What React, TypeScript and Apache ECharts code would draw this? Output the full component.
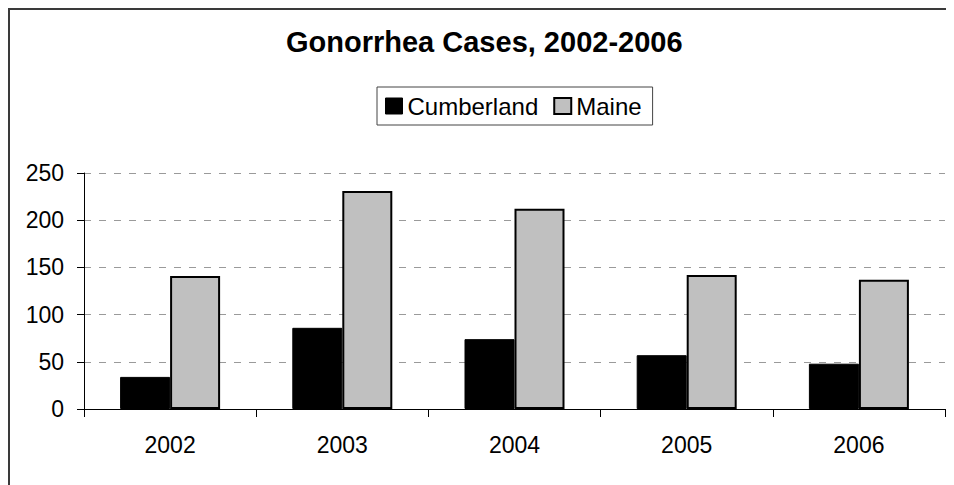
import React, { useEffect, useRef } from "react";
import * as echarts from "echarts";

const titleText = "Gonorrhea Cases, 2002-2006";
const categories = ["2002", "2003", "2004", "2005", "2006"];
const seriesNames = ["Cumberland", "Maine"];
const cumberland = [34, 86, 74, 57, 48];
const maine = [141, 231, 212, 142, 137];
const yTicks = { min: 0, max: 250, interval: 50 };

const FONT = "'Liberation Sans', Arial, sans-serif";

export default function App() {
  const ref = useRef<HTMLDivElement>(null);
  useEffect(() => {
    if (!ref.current) return;
    const chart = echarts.init(ref.current, null, { renderer: "svg" });
    chart.setOption({
      animation: false,
      backgroundColor: "#ffffff",
      title: {
        text: titleText,
        left: 278,
        top: 19,
        padding: 0,
        textStyle: {
          fontFamily: FONT,
          fontSize: 29,
          fontWeight: "bold",
          color: "#000",
          lineHeight: 29,
        },
      },
      legend: {
        left: 369,
        top: 79,
        orient: "horizontal",
        padding: [6, 11, 6, 8],
        itemGap: 15,
        itemWidth: 17,
        itemHeight: 16,
        itemTextGap: 5,
        borderColor: "#444",
        borderWidth: 1,
        textStyle: { fontFamily: FONT, fontSize: 24, color: "#000", lineHeight: 26 },
        data: [
          { name: seriesNames[0], icon: "rect", itemStyle: { color: "#000", borderColor: "#000", borderWidth: 1 } },
          { name: seriesNames[1], icon: "rect", itemStyle: { color: "#c0c0c0", borderColor: "#000", borderWidth: 2 } },
        ],
      },
      grid: { left: 76, top: 165, width: 861, height: 236, containLabel: false },
      xAxis: {
        type: "category",
        data: categories,
        axisLine: { show: true, lineStyle: { color: "#000", width: 1 } },
        axisTick: { show: true, length: 8, lineStyle: { color: "#000", width: 1 } },
        axisLabel: { fontFamily: FONT, fontSize: 23, color: "#000", margin: 24 },
      },
      yAxis: {
        type: "value",
        min: yTicks.min,
        max: yTicks.max,
        interval: yTicks.interval,
        axisLine: { show: true, lineStyle: { color: "#000", width: 1 } },
        axisTick: { show: true, length: 7, lineStyle: { color: "#000", width: 1 } },
        axisLabel: { fontFamily: FONT, fontSize: 23, color: "#000", margin: 20 },
        splitLine: {
          show: true,
          lineStyle: { color: "#9a9a9a", width: 1, type: [7, 8] },
        },
      },
      series: [
        {
          name: seriesNames[0],
          type: "bar",
          data: cumberland,
          barWidth: 50,
          barGap: "0%",
          itemStyle: { color: "#000", borderColor: "#000", borderWidth: 1 },
        },
        {
          name: seriesNames[1],
          type: "bar",
          data: maine,
          barWidth: 50,
          barGap: "0%",
          itemStyle: { color: "#c0c0c0", borderColor: "#000", borderWidth: 2 },
        },
      ],
      graphic: [
        {
          type: "rect",
          shape: { x: 1, y: 1, width: 2000, height: 2000 },
          style: { fill: "none", stroke: "#3a3a3a", lineWidth: 2 },
          silent: true,
          z: 100,
        },
      ],
    });
    return () => chart.dispose();
  }, []);
  return <div ref={ref} style={{ width: 946, height: 477 }} />;
}
